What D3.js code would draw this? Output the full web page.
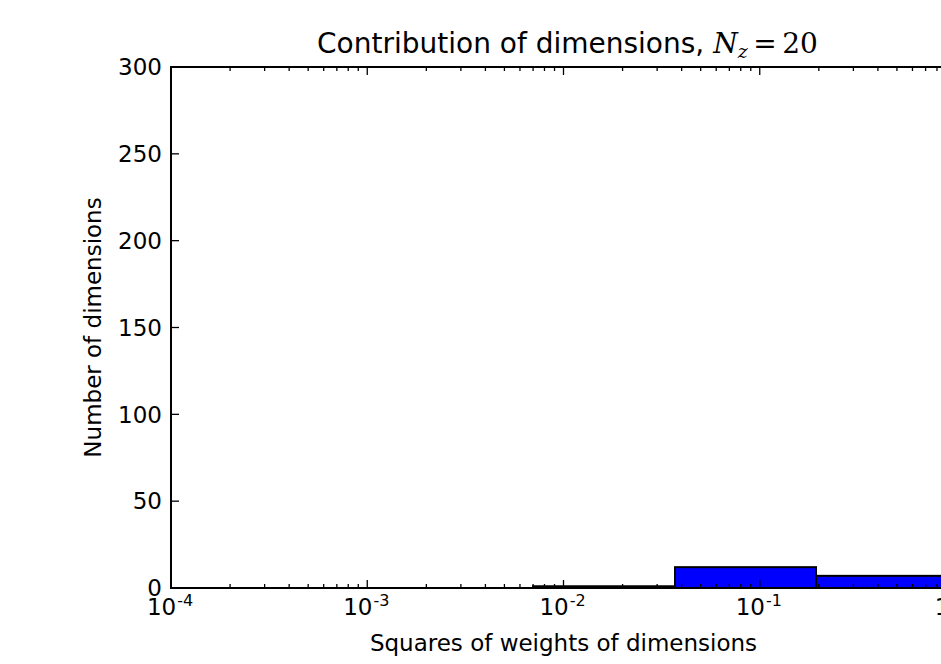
<!DOCTYPE html>
<html>
<head>
<meta charset="utf-8">
<script src="https://cdn.jsdelivr.net/npm/d3@7"></script>
<style>
  html, body { margin: 0; padding: 0; background: #fff; overflow: hidden; }
  svg { display: block; }
</style>
</head>
<body>
<svg id="chart" width="941" height="664"></svg>
<script>
// ---- data ----
const binEdges = [0.0070, 0.0370, 0.1935, 1.01];
const binCounts = [1, 12, 7];
const xTickExponents = [-4, -3, -2, -1, 0];
const yTicks = [0, 50, 100, 150, 200, 250, 300];
const titleText = "Contribution of dimensions, ";
const xLabel = "Squares of weights of dimensions";
const yLabel = "Number of dimensions";

(function () {
// ---- layout ----
const pLeft = 171, pRight = 956, pTop = 67, pBottom = 588;
const svg = d3.select("#chart");
const x = d3.scaleLog().domain([1e-4, 1]).range([pLeft, pRight]);
const y = d3.scaleLinear().domain([0, 300]).range([pBottom, pTop]);

const bins = binCounts.map((c, i) => ({ x0: binEdges[i], x1: binEdges[i + 1], count: c }));

// bars
svg.append("g").selectAll("rect").data(bins).join("rect")
  .attr("x", d => x(d.x0))
  .attr("y", d => y(d.count))
  .attr("width", d => x(d.x1) - x(d.x0))
  .attr("height", d => y(0) - y(d.count))
  .attr("fill", "#0000ff")
  .attr("stroke", "#000")
  .attr("stroke-width", 2);

// minor + major ticks (inward), bottom and top
const majors = xTickExponents.map(e => Math.pow(10, e));
const minors = [];
for (let e = -4; e < 0; e++) for (let k = 2; k <= 9; k++) minors.push(k * Math.pow(10, e));

const tickG = svg.append("g").attr("stroke", "#000").attr("stroke-width", 1.3);
function xTicks(vals, len) {
  tickG.append("g").selectAll("line").data(vals).join("line")
    .attr("x1", d => x(d)).attr("x2", d => x(d))
    .attr("y1", pBottom).attr("y2", pBottom - len);
  tickG.append("g").selectAll("line").data(vals).join("line")
    .attr("x1", d => x(d)).attr("x2", d => x(d))
    .attr("y1", pTop).attr("y2", pTop + len);
}
xTicks(majors, 8);
xTicks(minors, 4);
tickG.append("g").selectAll("line").data(yTicks).join("line")
  .attr("x1", pLeft).attr("x2", pLeft + 8)
  .attr("y1", d => y(d)).attr("y2", d => y(d));
tickG.append("g").selectAll("line").data(yTicks).join("line")
  .attr("x1", pRight).attr("x2", pRight - 8)
  .attr("y1", d => y(d)).attr("y2", d => y(d));

// frame
svg.append("rect")
  .attr("x", pLeft).attr("y", pTop)
  .attr("width", pRight - pLeft).attr("height", pBottom - pTop)
  .attr("fill", "none").attr("stroke", "#000").attr("stroke-width", 2);

const font = "DejaVu Sans, sans-serif";

// x tick labels
const xl = svg.append("g").attr("font-family", font).attr("font-size", 23).attr("fill", "#000");
xTickExponents.forEach(e => {
  const t = xl.append("text")
    .attr("x", x(Math.pow(10, e)) - 1)
    .attr("y", 615)
    .attr("text-anchor", "middle");
  t.append("tspan").text("10");
  t.append("tspan").attr("font-size", 16).attr("dx", 1).attr("dy", -9).text(e === 0 ? "0" : "-" + Math.abs(e));
});

// y tick labels
svg.append("g").attr("font-family", font).attr("font-size", 23).attr("fill", "#000")
  .selectAll("text").data(yTicks).join("text")
  .attr("x", pLeft - 9)
  .attr("y", d => y(d))
  .attr("dy", "0.36em")
  .attr("text-anchor", "end")
  .text(d => d);

// title
const title = svg.append("text")
  .attr("x", (pLeft + pRight) / 2 + 4)
  .attr("y", 53)
  .attr("text-anchor", "middle")
  .attr("font-family", font)
  .attr("font-size", 28)
  .attr("fill", "#000");
title.append("tspan").text(titleText);
title.append("tspan").attr("font-family", "DejaVu Serif, serif").attr("font-style", "italic").text("N");
title.append("tspan").attr("font-family", "DejaVu Serif, serif").attr("font-style", "italic")
  .attr("font-size", 19).attr("dy", 5).text("z");
title.append("tspan").attr("font-family", "DejaVu Serif, serif").attr("dy", -5).text("\u2009=\u200920");

// axis labels
svg.append("text")
  .attr("x", (pLeft + pRight) / 2)
  .attr("y", 651)
  .attr("text-anchor", "middle")
  .attr("font-family", font).attr("font-size", 23).attr("fill", "#000")
  .text(xLabel);

svg.append("text")
  .attr("transform", `translate(101, ${(pTop + pBottom) / 2}) rotate(-90)`)
  .attr("text-anchor", "middle")
  .attr("font-family", font).attr("font-size", 23).attr("fill", "#000")
  .text(yLabel);
})();
</script>
</body>
</html>
